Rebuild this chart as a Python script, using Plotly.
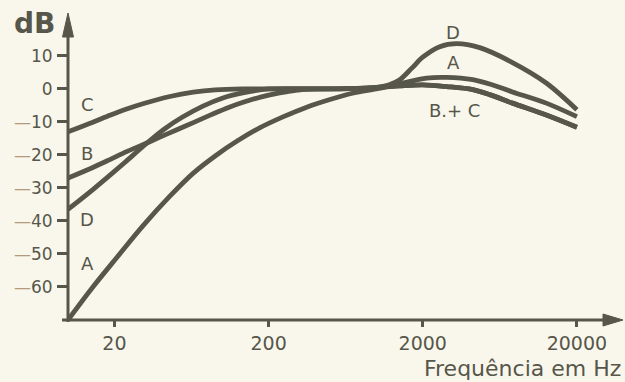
import plotly.graph_objects as go

# ---------------- data ----------------
freq_A = [10, 14.5, 20.8, 30.6, 45.8, 65, 92, 125, 175, 250, 350, 500, 700, 1000,
          1420, 2120, 2860, 4220, 5500, 7640, 12650, 20000]
db_A = [-70, -60, -51, -41.5, -32.5, -25.5, -20, -15.8, -11.8, -8.4, -5.6, -3.2, -1.3, 0,
        1.6, 3.3, 3.5, 2.8, 1.4, -0.9, -4.3, -8.4]

freq_B = [10, 14.5, 18.7, 24, 30.6, 39.5, 50, 65, 85, 110, 140, 180, 236, 300,
          400, 600, 1000, 1420, 2000, 2860, 4220, 5500, 7640, 12650, 20000]
db_B = [-27, -23.8, -21.4, -19.0, -16.9, -14.6, -12.5, -10.2, -7.8, -5.6, -3.9, -2.4,
        -1.2, -0.4, 0, 0, 0.4, 0.9, 1.2, 0.7, -0.2, -1.8, -4.3, -7.9, -11.6]

freq_C = [10, 14.5, 18.7, 24, 30.6, 45.8, 65, 90, 136, 200, 500, 1000, 1420, 2000,
          2860, 4220, 5500, 7640, 12650, 20000]
db_C = [-13, -10.1, -8.0, -6.1, -4.5, -2.3, -1.0, -0.3, 0, 0, 0, 0.4, 0.9, 1.2, 0.7,
        -0.2, -1.8, -4.3, -7.9, -11.6]

freq_D = [10, 14.5, 20, 24, 31.6, 42, 55, 75, 100, 136, 200, 500, 1000, 1200, 1420,
          1700, 2000, 2580, 3320, 4680, 7640, 12650, 20000]
db_D = [-36.5, -30.5, -25.0, -21.8, -16.9, -12.2, -8.6, -5.2, -2.8, -1.2, 0, 0, 0.5,
        1.2, 2.8, 6.3, 9.6, 12.8, 13.7, 12.5, 8.0, 1.8, -6.3]

x_tickvals = [20, 200, 2000, 20000]
x_ticktext = ["20", "200", "2000", "20000"]
y_tickvals = [10, 0, -10, -20, -30, -40, -50, -60]

# ---------------- style ----------------
INK = "#56564a"
DASH = "#b39a7c"
BG = "#f9f7ec"
FONT = "DejaVu Sans"

y_ticktext = []
for v in y_tickvals:
    if v < 0:
        y_ticktext.append(f"<span style='color:{DASH}'>—</span>{abs(v)}")
    else:
        y_ticktext.append(str(v))

fig = go.Figure()
for f, d in [(freq_A, db_A), (freq_B, db_B), (freq_C, db_C), (freq_D, db_D)]:
    fig.add_trace(go.Scatter(x=f, y=d, mode="lines",
                             line=dict(color=INK, width=4.8, shape="spline", smoothing=0.9),
                             showlegend=False, hoverinfo="skip"))

# plot-area geometry (pixels) used to place decorations in paper coords
L, R, T, B = 68, 2, 13, 62
PW, PH = 625 - L - R, 382 - T - B


def px(x):
    return (x - L) / PW


def py(y):
    return (382 - B - y) / PH


shapes = [
    dict(type="line", xref="paper", yref="paper", x0=px(62), x1=px(608), y0=0, y1=0,
         line=dict(color=INK, width=3)),
    dict(type="line", xref="paper", yref="paper", x0=0, x1=0, y0=py(322), y1=py(32),
         line=dict(color=INK, width=3)),
    dict(type="path", xref="paper", yref="paper",
         path=f"M {px(623)} {py(320)} L {px(603)} {py(314)} L {px(603)} {py(326)} Z",
         fillcolor=INK, line=dict(color=INK, width=1)),
    dict(type="path", xref="paper", yref="paper",
         path=f"M {px(68)} {py(13)} L {px(62.5)} {py(37)} L {px(73.5)} {py(37)} Z",
         fillcolor=INK, line=dict(color=INK, width=1)),
]

annotations = []


def label(text, x, y, size=18, xanchor="center"):
    annotations.append(dict(text=text, xref="paper", yref="paper", x=px(x), y=py(y),
                            xanchor=xanchor, yanchor="middle", showarrow=False,
                            font=dict(family=FONT, size=size, color=INK)))


label("C", 87, 104)
label("B", 87, 153)
label("D", 87, 219)
label("A", 87, 263)
label("D", 453, 32)
label("A", 453, 63)
label("B.+ C", 454, 110)
label("<b>dB</b>", 34, 23, size=28)
label("Frequência em Hz", 623, 368, size=22, xanchor="right")

fig.update_layout(
    width=625, height=382,
    margin=dict(l=L, r=R, t=T, b=B),
    paper_bgcolor=BG, plot_bgcolor=BG,
    shapes=shapes, annotations=annotations,
    xaxis=dict(type="log", range=[1, 4.6], tickvals=x_tickvals, ticktext=x_ticktext,
               ticks="outside", ticklen=6, tickwidth=2.5, tickcolor=INK,
               showline=False, showgrid=False, zeroline=False,
               tickfont=dict(family=FONT, size=19, color=INK)),
    yaxis=dict(range=[-70, 23], tickvals=y_tickvals, ticktext=y_ticktext,
               ticks="outside", ticklen=10, tickwidth=2.5, tickcolor=INK,
               showline=False, showgrid=False, zeroline=False, ticklabelstandoff=1,
               tickfont=dict(family=FONT, size=17, color=INK)),
)

fig.write_html("out.html",
               config={"displayModeBar": False},
               post_script="document.body.style.margin='0px';"
                           "document.body.style.background='" + BG + "';")
